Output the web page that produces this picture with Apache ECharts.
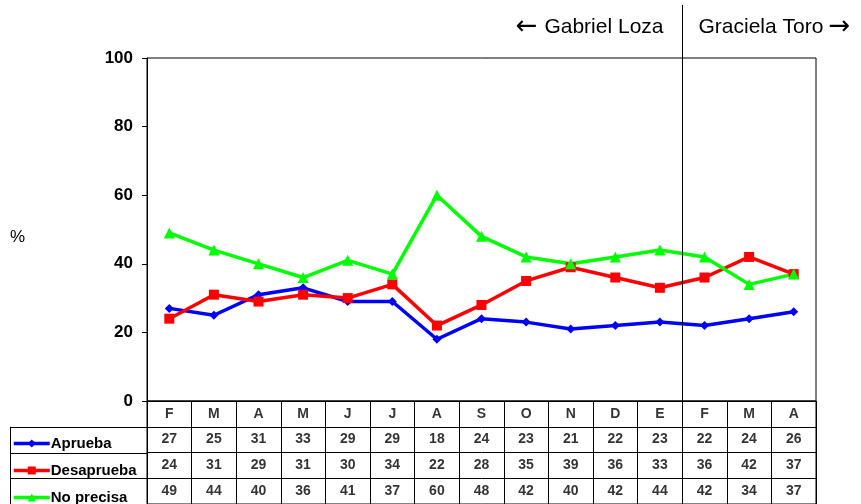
<!DOCTYPE html>
<html>
<head>
<meta charset="utf-8">
<script src="https://cdn.jsdelivr.net/npm/echarts@6/dist/echarts.min.js"></script>
<style>
  html, body { margin: 0; padding: 0; background: #fff; }
  #chart { width: 861px; height: 504px; }
</style>
</head>
<body>
<div id="chart"></div>
<script>
// meses (feb a abr del año siguiente)
var months = ["F", "M", "A", "M", "J", "J", "A", "S", "O", "N", "D", "E", "F", "M", "A"];
var aprueba = [27, 25, 31, 33, 29, 29, 18, 24, 23, 21, 22, 23, 22, 24, 26];
var desaprueba = [24, 31, 29, 31, 30, 34, 22, 28, 35, 39, 36, 33, 36, 42, 37];
var noPrecisa = [49, 44, 40, 36, 41, 37, 60, 48, 42, 40, 42, 44, 42, 34, 37];
var yTicks = [0, 20, 40, 60, 80, 100];
var tableRows = ["mes", "Aprueba", "Desaprueba", "No precisa"];

var font = "Liberation Sans, Arial, sans-serif";
var chart = echarts.init(document.getElementById("chart"));

/*----------------------- celdas de la tabla -----------------------------*/
function tableCells(values, row) {
  var cells = [];
  for (var i = 0; i < values.length; i++) {
    cells.push({ value: [i, row], label: { formatter: String(values[i]) } });
  }
  return cells;
}

function tableSerie(name, values, row) {
  return {
    name: name,
    type: "scatter",
    xAxisIndex: 1,
    yAxisIndex: 1,
    symbolSize: 0,
    silent: true,
    data: tableCells(values, row),
    label: {
      show: true,
      position: "inside",
      color: "#000",
      fontFamily: font,
      fontWeight: "bold",
      fontSize: 14,
    },
  };
}

function lineSerie(name, values, color, symbol, size) {
  return {
    name: name,
    type: "line",
    data: values,
    symbol: symbol,
    symbolSize: size,
    lineStyle: { color: color, width: 3.5 },
    itemStyle: { color: color },
    z: 3,
  };
}

function legendAt(name, top) {
  return {
    data: [name],
    left: 12,
    top: top,
    padding: 0,
    itemGap: 0,
    itemWidth: 36,
    itemHeight: 10,
    selectedMode: false,
    lineStyle: { width: 3.5 },
    textStyle: { color: "#000", fontFamily: font, fontWeight: "bold", fontSize: 15, padding: [0, 0, 0, -4] },
  };
}

var option = {
  animation: false,
  legend: [
    legendAt("Aprueba", 436),
    legendAt("Desaprueba", 463),
    legendAt("No precisa", 490),
  ],
  grid: [
    { left: 147, right: 45, top: 58, height: 343, show: true, borderColor: "#000", borderWidth: 1 },
    { left: 147, right: 45, top: 401, height: 108, show: true, borderColor: "#000", borderWidth: 1 },
  ],
  xAxis: [
    {
      type: "category",
      gridIndex: 0,
      data: months,
      boundaryGap: true,
      axisLine: { lineStyle: { color: "#000" } },
      axisTick: { show: false },
      axisLabel: { show: false },
    },
    {
      type: "category",
      gridIndex: 1,
      data: months,
      boundaryGap: true,
      axisLine: { show: false },
      axisTick: { show: false },
      axisLabel: { show: false },
      splitLine: { show: true, interval: 0, lineStyle: { color: "#000", width: 1 } },
    },
  ],
  yAxis: [
    {
      type: "value",
      gridIndex: 0,
      min: 0,
      max: 100,
      interval: 20,
      axisLine: { show: true, lineStyle: { color: "#000" } },
      axisTick: { show: true, inside: false, length: 5, lineStyle: { color: "#000" } },
      splitLine: { show: false },
      axisLabel: {
        color: "#000",
        fontFamily: font,
        fontWeight: "bold",
        fontSize: 17,
        margin: 14,
        customValues: yTicks,
      },
    },
    {
      type: "category",
      gridIndex: 1,
      data: tableRows,
      inverse: true,
      boundaryGap: true,
      axisLine: { show: false },
      axisTick: { show: false },
      axisLabel: { show: false },
      splitLine: { show: true, interval: 0, lineStyle: { color: "#000", width: 1 } },
    },
  ],
  series: [
    lineSerie("Aprueba", aprueba, "#0000ff", "diamond", 9),
    lineSerie("Desaprueba", desaprueba, "#ff0000", "rect", 10),
    lineSerie("No precisa", noPrecisa, "#00ff00", "triangle", 11),
    tableSerie("tabla-mes", months, 0),
    tableSerie("tabla-aprueba", aprueba, 1),
    tableSerie("tabla-desaprueba", desaprueba, 2),
    tableSerie("tabla-noprecisa", noPrecisa, 3),
  ],
};
chart.setOption(option);

/*----------------------- separador y textos -----------------------------*/
var xE = chart.convertToPixel({ xAxisIndex: 0 }, 11);
var xF = chart.convertToPixel({ xAxisIndex: 0 }, 12);
var sepX = Math.round((xE + xF) / 2) + 0.5;
var rowTop = chart.convertToPixel({ yAxisIndex: 1 }, 1);
var rowH = chart.convertToPixel({ yAxisIndex: 1 }, 2) - rowTop;
var lineY = [rowTop - rowH / 2, rowTop + rowH / 2, rowTop + rowH * 1.5];

var arrowStyle = { fontFamily: "DejaVu Sans", fontSize: 26, fill: "#000" };
var nameStyle = { fontFamily: font, fontSize: 21, fill: "#000" };

var graphics = [
  { type: "line", shape: { x1: sepX, y1: 5, x2: sepX, y2: 504 }, style: { stroke: "#000", lineWidth: 1 }, z: 10 },
  { type: "line", shape: { x1: 10.5, y1: lineY[0], x2: 10.5, y2: 504 }, style: { stroke: "#000", lineWidth: 1 } },
  {
    type: "text",
    x: sepX - 19,
    y: 27,
    style: {
      text: "{a|\u2190}{b|Gabriel Loza}",
      align: "right",
      verticalAlign: "middle",
      rich: { a: arrowStyle, b: { fontFamily: font, fontSize: 21, fill: "#000", padding: [0, 0, 0, 7] } },
    },
  },
  {
    type: "text",
    x: sepX + 16,
    y: 27,
    style: {
      text: "{b|Graciela Toro}{a|\u2192}",
      align: "left",
      verticalAlign: "middle",
      rich: { a: arrowStyle, b: { fontFamily: font, fontSize: 21, fill: "#000", padding: [0, 5, 0, 0] } },
    },
  },
  {
    type: "text",
    x: 10,
    y: 237,
    style: { text: "%", verticalAlign: "middle", fill: "#000", font: "17px " + font },
  },
];
for (var k = 0; k < lineY.length; k++) {
  graphics.push({
    type: "line",
    shape: { x1: 10, y1: Math.round(lineY[k]) + 0.5, x2: 147, y2: Math.round(lineY[k]) + 0.5 },
    style: { stroke: "#000", lineWidth: 1 },
  });
}
chart.setOption({ graphic: graphics });
</script>
</body>
</html>
